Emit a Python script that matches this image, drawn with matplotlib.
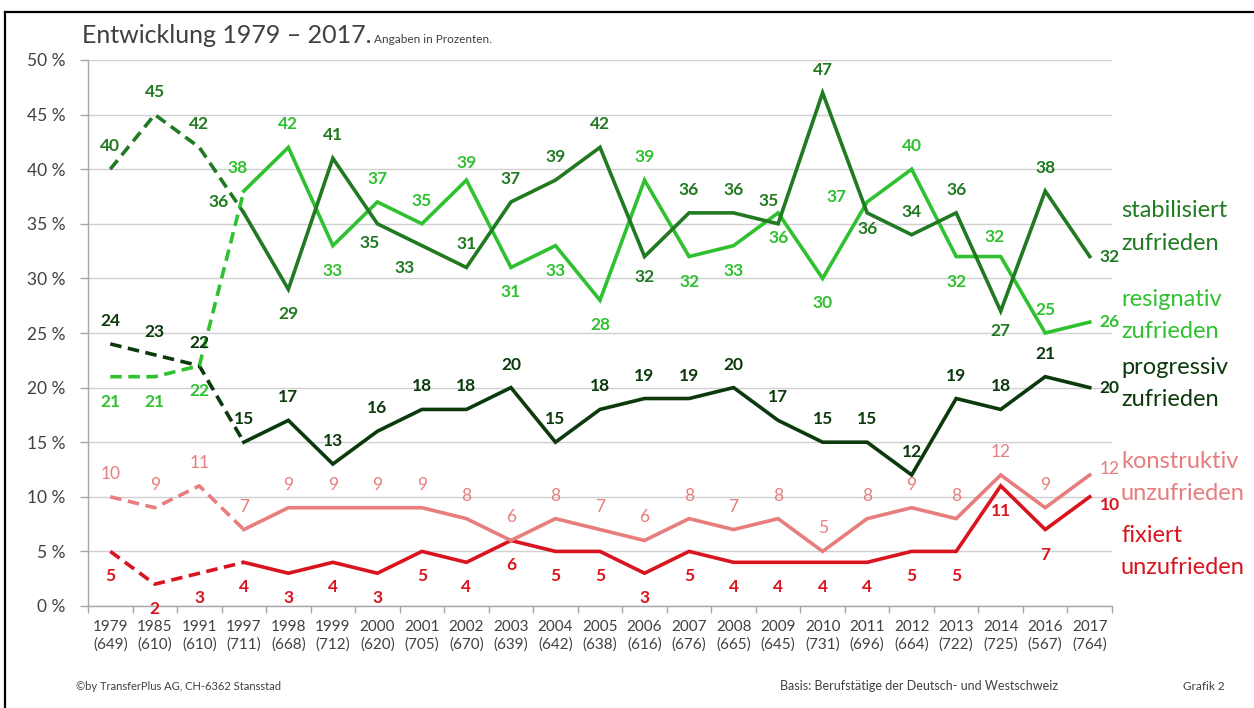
import matplotlib
matplotlib.use("Agg")
import matplotlib.pyplot as plt
from matplotlib.lines import Line2D
from matplotlib.ticker import FixedLocator, FuncFormatter

# ---------------- data ----------------
years = ["1979", "1985", "1991", "1997", "1998", "1999", "2000", "2001", "2002", "2003", "2004",
         "2005", "2006", "2007", "2008", "2009", "2010", "2011", "2012", "2013", "2014", "2016", "2017"]
sample_n = [649, 610, 610, 711, 668, 712, 620, 705, 670, 639, 642,
            638, 616, 676, 665, 645, 731, 696, 664, 722, 725, 567, 764]

stabilisiert = [40, 45, 42, 36, 29, 41, 35, 33, 31, 37, 39, 42, 32, 36, 36, 35, 47, 36, 34, 36, 27, 38, 32]
resignativ = [21, 21, 22, 38, 42, 33, 37, 35, 39, 31, 33, 28, 39, 32, 33, 36, 30, 37, 40, 32, 32, 25, 26]
progressiv = [24, 23, 22, 15, 17, 13, 16, 18, 18, 20, 15, 18, 19, 19, 20, 17, 15, 15, 12, 19, 18, 21, 20]
konstruktiv = [10, 9, 11, 7, 9, 9, 9, 9, 8, 6, 8, 7, 6, 8, 7, 8, 5, 8, 9, 8, 12, 9, 12]
fixiert = [5, 2, 3, 4, 3, 4, 3, 5, 4, 6, 5, 5, 3, 5, 4, 4, 4, 4, 5, 5, 11, 7, 10]

series_names = ["stabilisiert\nzufrieden", "resignativ\nzufrieden", "progressiv\nzufrieden",
                "konstruktiv\nunzufrieden", "fixiert\nunzufrieden"]

# ---------------- styles ----------------
C_STAB = "#217a21"
C_RES = "#2fc12f"
C_PROG = "#0c3a0c"
C_KON = "#e77d7d"
C_FIX = "#d9141e"
TXT = "#404040"
FONT = "Lato"

# label placement per point (offsets in pixels: dx, dy up positive); R = right of last point
A = (0, 23)
B = (0, -25)
R = (10, 0)
place_stab = [A, A, A, (-25, 11), B, A, (-8, -19), (-17, -22), A, A, A, A, (0, -20), A, A, (-10, 23),
              A, (0, -16), A, A, (0, -20), A, R]
place_res = [B, B, B, (-6, 23), A, B, A, A, (0, 17), B, B, B, A, B, B, B, B, (-31, 5), A, B,
             (-6, 20), A, R]
place_prog = [A, A, A, A, A, A, A, A, A, A, A, A, A, A, A, A, A, A, A, A, A, A, R]
place_kon = [A, A, A, A, A, A, A, A, A, A, A, A, A, A, A, A, A, A, A, A, A, A, (10, 6)]
place_fix = [B, B, B, B, B, B, B, B, B, B, B, B, B, B, B, B, B, B, B, B, B, B, (10, -8)]

W, H = 1254, 708
fig = plt.figure(figsize=(W / 100, H / 100), dpi=100)
fig.patch.set_facecolor("white")

L, Rr, T, Bm = 88, 1112, 60, 606
ax = fig.add_axes([L / W, 1 - Bm / H, (Rr - L) / W, (Bm - T) / H])
x = list(range(len(years)))

ax.set_xlim(-0.5, len(years) - 0.5)
ax.set_ylim(0, 50)

# grid
ax.set_axisbelow(True)
ax.yaxis.grid(True, color="#d0d0d0", lw=1.0)
for s in ["top", "right"]:
    ax.spines[s].set_visible(False)
for s in ["left", "bottom"]:
    ax.spines[s].set_color("#a6a6a6")
    ax.spines[s].set_linewidth(1.0)

# ticks
ax.yaxis.set_major_locator(FixedLocator(range(0, 51, 5)))
ax.yaxis.set_major_formatter(FuncFormatter(lambda v, p: f"{int(v)} %"))
ax.tick_params(axis="y", length=6, width=1, color="#a6a6a6", labelsize=12.5, labelcolor=TXT, pad=10)
ax.set_xticks(x)
ax.set_xticklabels([f"{y}\n({n})" for y, n in zip(years, sample_n)], linespacing=1.35)
ax.set_xticks([i - 0.5 for i in range(len(years) + 1)], minor=True)
ax.tick_params(axis="x", which="major", length=0, labelsize=11, labelcolor=TXT, pad=10)
ax.tick_params(axis="x", which="minor", length=5, width=1, color="#a6a6a6")
for lab in ax.get_xticklabels() + ax.get_yticklabels():
    lab.set_fontfamily(FONT)

LW = 2.6
series = [
    (stabilisiert, C_STAB, place_stab),
    (resignativ, C_RES, place_res),
    (progressiv, C_PROG, place_prog),
    (konstruktiv, C_KON, place_kon),
    (fixiert, C_FIX, place_fix),
]
for vals, col, pl in series[::-1]:
    ax.plot(x[:4], vals[:4], color=col, lw=LW, ls=(0, (3.2, 1.8)), dash_capstyle="butt", zorder=3)
    ax.plot(x[3:], vals[3:], color=col, lw=LW, solid_joinstyle="miter", zorder=3)

for vals, col, pl in series:
    n = len(vals)
    for i, v in enumerate(vals):
        dx, dy = pl[i]
        ha = "left" if i == n - 1 else "center"
        weight = "normal" if col == C_KON else "bold"
        ax.annotate(str(v), (i, v), xytext=(dx * 0.72, dy * 0.72), textcoords="offset points",
                    ha=ha, va="center", fontsize=12.5, fontweight=weight, color=col,
                    fontfamily=FONT, zorder=5, annotation_clip=False)

# right-hand series names
name_y = [(211, 243), (300, 332), (367, 399), (462, 493), (536, 567)]
name_cols = [C_STAB, C_RES, C_PROG, C_KON, C_FIX]
for nm, (y1, y2), col in zip(series_names, name_y, name_cols):
    a, b = nm.split("\n")
    fig.text(1121 / W, 1 - y1 / H, a, ha="left", va="center", fontsize=17, color=col, fontfamily=FONT)
    fig.text(1121 / W, 1 - y2 / H, b, ha="left", va="center", fontsize=17, color=col, fontfamily=FONT)

# title
fig.text(82 / W, 1 - 43 / H, "Entwicklung 1979 – 2017.", ha="left", va="baseline",
         fontsize=18, color=TXT, fontfamily=FONT)
fig.text(374 / W, 1 - 43 / H, "Angaben in Prozenten.", ha="left", va="baseline",
         fontsize=8.5, color=TXT, fontfamily=FONT)

# footer
fig.text(76 / W, 1 - 686 / H, "©by TransferPlus AG, CH-6362 Stansstad", ha="left", va="center",
         fontsize=8, color=TXT, fontfamily=FONT)
fig.text(780 / W, 1 - 686 / H, "Basis: Berufstätige der Deutsch- und Westschweiz", ha="left",
         va="center", fontsize=9, color=TXT, fontfamily=FONT)
fig.text(1183 / W, 1 - 686 / H, "Grafik 2", ha="left", va="center", fontsize=8.5, color=TXT,
         fontfamily=FONT)

# frame border (left and top)
fig.add_artist(Line2D([5 / W, 5 / W], [0, 1 - 12 / H], color="black", lw=1.6, transform=fig.transFigure))
fig.add_artist(Line2D([5 / W, 1], [1 - 12 / H, 1 - 12 / H], color="black", lw=1.6, transform=fig.transFigure))

fig.savefig("out.png", dpi=100, facecolor="white")
